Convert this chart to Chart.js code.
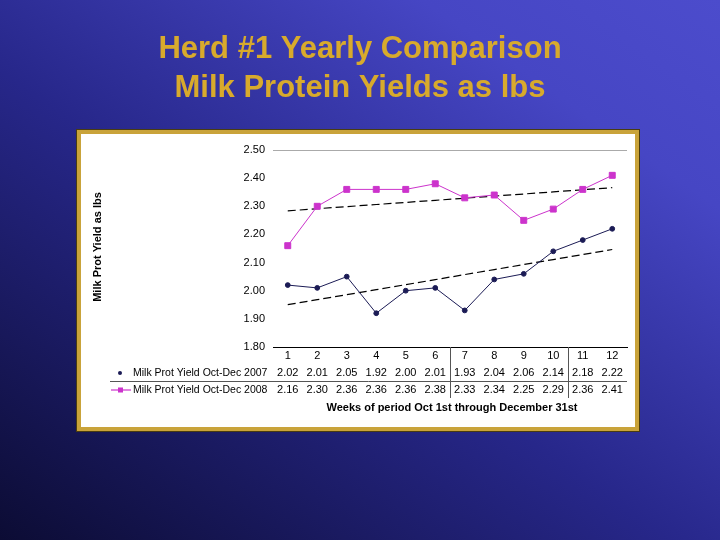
<!DOCTYPE html>
<html>
<head>
<meta charset="utf-8">
<script src="https://cdn.jsdelivr.net/npm/chart.js@4/dist/chart.umd.min.js"></script>
<style>
  html, body { margin: 0; padding: 0; }
  body { width: 720px; height: 540px; overflow: hidden;
    background: linear-gradient(35deg, #0c0c34 0%, #27278a 45%, #4646c4 80%, #4c4ccc 100%); }
  #wrap { position: absolute; left: 0; top: 0; width: 720px; height: 540px; }
</style>
</head>
<body>
<div id="wrap"><canvas id="chart" width="720" height="540"></canvas></div>
<script>
// data
const weeks = ['1', '2', '3', '4', '5', '6', '7', '8', '9', '10', '11', '12'];
const yield2007 = [2.02, 2.01, 2.05, 1.92, 2.00, 2.01, 1.93, 2.04, 2.06, 2.14, 2.18, 2.22];
const yield2008 = [2.16, 2.30, 2.36, 2.36, 2.36, 2.38, 2.33, 2.34, 2.25, 2.29, 2.36, 2.41];
const seriesNames = ['Milk Prot Yield Oct-Dec 2007', 'Milk Prot Yield Oct-Dec 2008'];
const titleLines = ['Herd #1 Yearly Comparison', 'Milk Protein Yields as lbs'];
const xTitle = 'Weeks of period Oct 1st through December 31st';
const yTitle = 'Milk Prot Yield as lbs';

const navy = '#1b1b55';
const magenta = '#cc33cc';
const FONT = '"Liberation Sans", Arial, sans-serif';

// linear trend (least squares), like Excel's trendline
function trend(vals) {
  const n = vals.length;
  let sx = 0, sy = 0, sxy = 0, sxx = 0;
  vals.forEach((v, i) => { const x = i + 1; sx += x; sy += v; sxy += x * v; sxx += x * x; });
  const b = (n * sxy - sx * sy) / (n * sxx - sx * sx);
  const a = (sy - b * sx) / n;
  return vals.map((v, i) => a + b * (i + 1));
}

// frame, titles, data table
const decor = {
  id: 'decor',
  beforeDraw(chart) {
    const ctx = chart.ctx;
    ctx.save();
    // title
    ctx.fillStyle = '#d8aa2c';
    ctx.font = 'bold 31px ' + FONT;
    ctx.textAlign = 'center';
    ctx.textBaseline = 'middle';
    ctx.fillText(titleLines[0], 360, 49);
    ctx.fillText(titleLines[1], 360, 88);
    // white panel with gold border
    ctx.fillStyle = '#4a3c10';
    ctx.fillRect(76, 129, 564, 303);
    ctx.fillStyle = '#c9a33a';
    ctx.fillRect(77, 130, 562, 301);
    ctx.fillStyle = '#ffffff';
    ctx.fillRect(81, 134, 554, 293);
    ctx.restore();
  },
  afterDraw(chart) {
    const ctx = chart.ctx;
    const xs = chart.scales.x;
    const area = chart.chartArea;
    ctx.save();
    ctx.fillStyle = '#000';
    ctx.font = '11px ' + FONT;
    ctx.textBaseline = 'middle';
    ctx.textAlign = 'center';
    const yCat = 356, y07 = 373, y08 = 390;
    weeks.forEach((w, i) => {
      const x = xs.getPixelForValue(i);
      ctx.fillText(w, x, yCat);
      ctx.fillText(yield2007[i].toFixed(2), x, y07);
      ctx.fillText(yield2008[i].toFixed(2), x, y08);
    });
    // row labels
    ctx.font = '10.5px ' + FONT;
    ctx.textAlign = 'left';
    ctx.fillText(seriesNames[0], 133, y07);
    ctx.fillText(seriesNames[1], 133, y08);
    // legend keys
    ctx.fillStyle = navy;
    ctx.beginPath();
    ctx.arc(120, y07, 2, 0, Math.PI * 2);
    ctx.fill();
    ctx.strokeStyle = magenta;
    ctx.lineWidth = 1.2;
    ctx.beginPath();
    ctx.moveTo(111, y08);
    ctx.lineTo(131, y08);
    ctx.stroke();
    ctx.fillStyle = magenta;
    ctx.fillRect(118, y08 - 2.5, 5, 5);
    // table lines
    ctx.strokeStyle = '#555';
    ctx.lineWidth = 1;
    ctx.beginPath();
    ctx.moveTo(110, 381.5);
    ctx.lineTo(area.right, 381.5);
    const xa = Math.round((xs.getPixelForValue(5) + xs.getPixelForValue(6)) / 2) + 0.5;
    const xb = Math.round((xs.getPixelForValue(9) + xs.getPixelForValue(10)) / 2) + 0.5;
    [xa, xb].forEach(x => { ctx.moveTo(x, area.bottom); ctx.lineTo(x, 398); });
    ctx.stroke();
    // axis titles
    ctx.fillStyle = '#000';
    ctx.font = 'bold 11px ' + FONT;
    ctx.textAlign = 'center';
    ctx.fillText(xTitle, 452, 408);
    ctx.translate(98, 247);
    ctx.rotate(-Math.PI / 2);
    ctx.fillText(yTitle, 0, 0);
    ctx.restore();
  }
};

new Chart(document.getElementById('chart'), {
  type: 'line',
  data: {
    labels: weeks,
    datasets: [
      { label: seriesNames[0], data: yield2007, borderColor: navy, backgroundColor: navy,
        borderWidth: 1, pointStyle: 'circle', pointRadius: 2.4, tension: 0 },
      { label: seriesNames[1], data: yield2008, borderColor: magenta, backgroundColor: magenta,
        borderWidth: 1, pointStyle: 'rect', pointRadius: 4.2, tension: 0 },
      { label: 'trend 2007', data: trend(yield2007), borderColor: '#000', borderWidth: 1.2,
        borderDash: [8, 4], pointRadius: 0, tension: 0 },
      { label: 'trend 2008', data: trend(yield2008), borderColor: '#000', borderWidth: 1.2,
        borderDash: [8, 4], pointRadius: 0, tension: 0 }
    ]
  },
  options: {
    responsive: false,
    animation: false,
    events: [],
    layout: { padding: { left: 0, right: 93, top: 150, bottom: 193 } },
    plugins: { legend: { display: false }, tooltip: { enabled: false } },
    scales: {
      x: {
        offset: true,
        ticks: { display: false },
        grid: { display: false, drawTicks: false },
        border: { display: true, color: '#000', width: 1 }
      },
      y: {
        min: 1.8, max: 2.5,
        afterFit(scale) { scale.width = 273; },
        ticks: { stepSize: 0.1, color: '#000', font: { family: FONT, size: 11 }, padding: 8,
          callback: v => v.toFixed(2) },
        grid: {
          drawTicks: false,
          color: ctx => (ctx.tick && Math.abs(ctx.tick.value - 2.5) < 1e-6) ? '#aaa' : 'rgba(0,0,0,0)'
        },
        border: { display: false }
      }
    }
  },
  plugins: [decor]
});
</script>
</body>
</html>
